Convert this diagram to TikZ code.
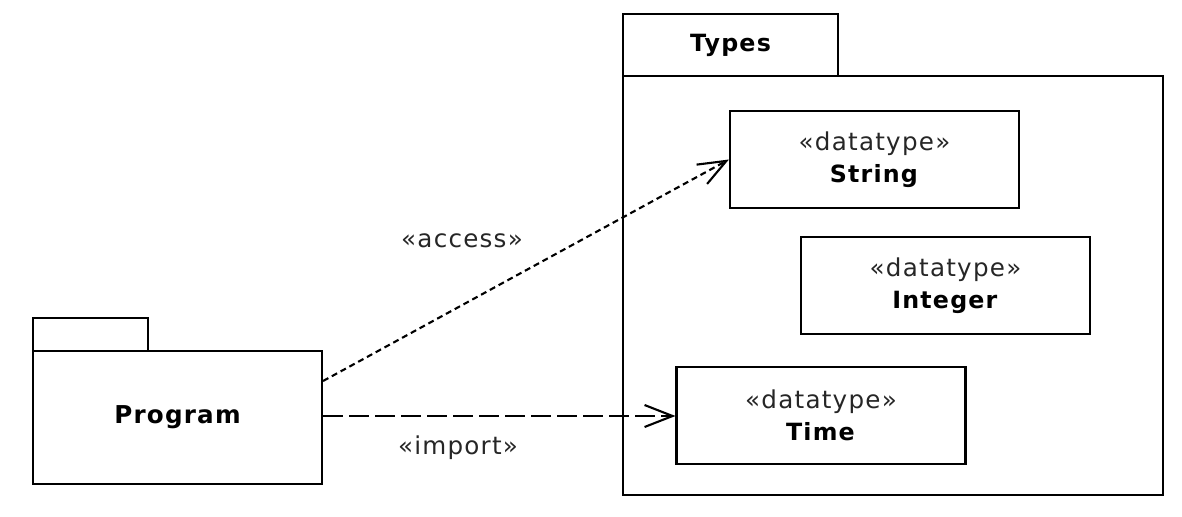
\documentclass[tikz,border=0pt]{standalone}
\usepackage{fontspec}
\setmainfont{DejaVu Sans}
\newfontfamily\umlfont[LetterSpace=5]{DejaVu Sans}
\usetikzlibrary{arrows.meta, positioning}

\begin{document}
\begin{tikzpicture}[
    pkgbox/.style={rectangle,draw,line width=1.2pt,inner sep=0pt},
    typebox/.style={rectangle,draw,line width=1.2pt,minimum width=5.78cm,minimum height=1.94cm,align=center,font=\umlfont\fontsize{13.5}{18}\selectfont},
    stereo/.style={font=\umlfont\fontsize{14}{16}\selectfont,text=black!85},
    dep/.style={line width=1.2pt,-{Straight Barb[length=0.56cm,width=0.44cm]}}
]
    \useasboundingbox (0,0) rectangle (23.64,10.32);

    % Pacchetto Types
    \node[pkgbox,minimum width=4.30cm,minimum height=1.24cm,font=\umlfont\fontsize{13.5}{15}\selectfont\bfseries] (typestab) at (14.61,9.42) {Types};
    \node[pkgbox,minimum width=10.80cm,minimum height=8.38cm] (types) at (17.86,4.61) {};

    % Tipi di dato
    \node[typebox] (string) at (17.49,7.13) {{\color{black!85}\fontsize{14}{16}\selectfont «datatype»}\\\textbf{String}};
    \node[typebox] (integer) at (18.91,4.61) {{\color{black!85}\fontsize{14}{16}\selectfont «datatype»}\\\textbf{Integer}};
    \node[typebox] (time) at (16.42,2.01) {{\color{black!85}\fontsize{14}{16}\selectfont «datatype»}\\\textbf{Time}};

    % Pacchetto Program
    \node[pkgbox,minimum width=2.30cm,minimum height=0.66cm] (programtab) at (1.81,3.63) {};
    \node[pkgbox,minimum width=5.78cm,minimum height=2.66cm,font=\umlfont\fontsize{14}{16}\selectfont\bfseries] (program) at (3.55,1.97) {Program};

    % Dipendenze
    \draw[dep,dash pattern=on 0.12cm off 0.08cm] ([yshift=0.73cm]program.east) -- (string.west);
    \draw[dep,dash pattern=on 0.4cm off 0.12cm] ([yshift=0.03cm]program.east) -- ([yshift=0.03cm]program.east -| time.west);

    \node[stereo] (access) at (9.24,5.50) {«access»};
    \node[stereo] (import) at (9.16,1.36) {«import»};
\end{tikzpicture}
\end{document}
